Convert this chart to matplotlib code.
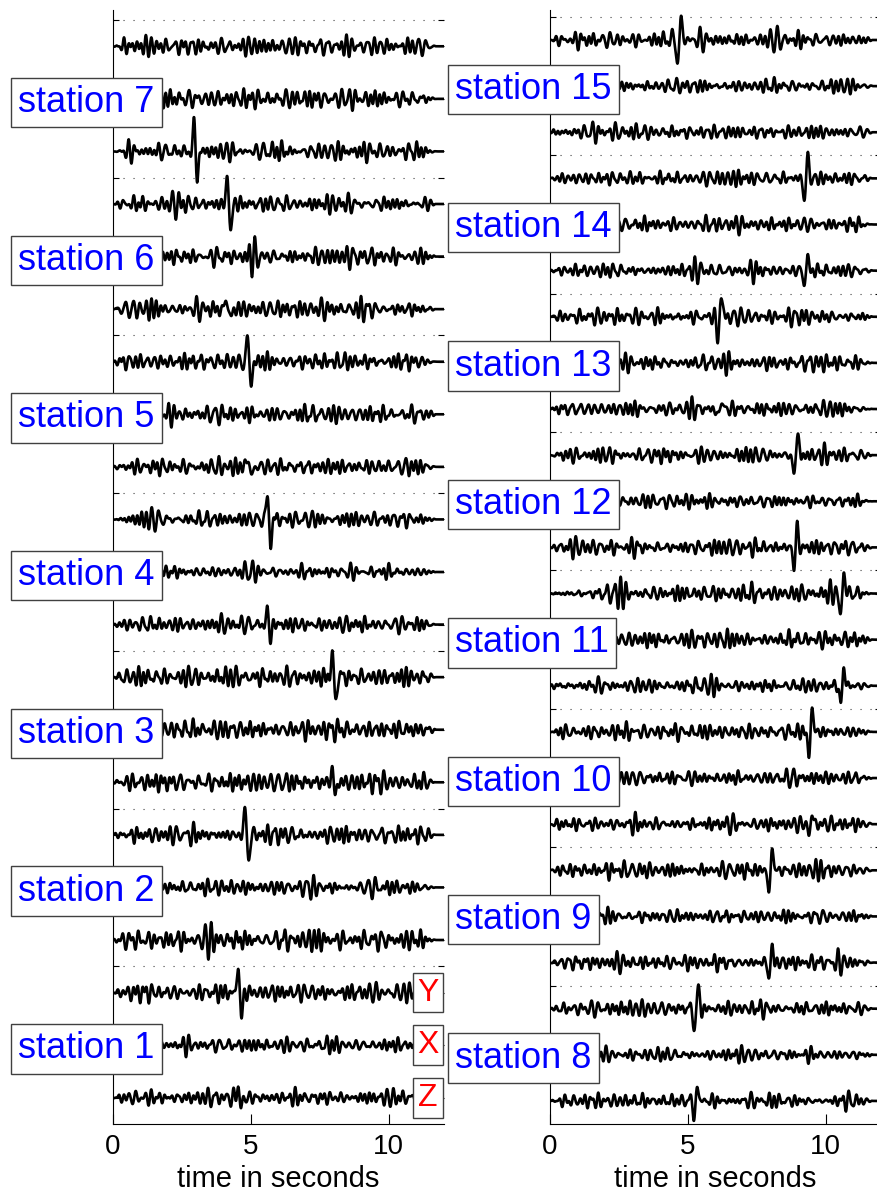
import numpy as np
import matplotlib.pyplot as plt

plt.rcParams["font.family"] = ["Liberation Sans", "DejaVu Sans"]

# ---------------------------------------------------------------------------
# Record setup
# ---------------------------------------------------------------------------
DURATION = 12.0          # s
DT = 0.01                # s
STATIONS_LEFT = [1, 2, 3, 4, 5, 6, 7]
STATIONS_RIGHT = [8, 9, 10, 11, 12, 13, 14, 15]
COMPONENTS = ["Z", "X", "Y"]          # bottom -> top inside a station block

# picked arrival of the main wavelet, station 1..15 (s)
ARRIVAL = [4.6, 4.85, 8.0, 5.65, 4.95, 4.2, 3.0,
           5.3, 8.0, 9.45, 10.6, 8.9, 6.15, 9.28, 4.7]
# main wavelet amplitude per component (trace spacing = 1)
AMP_Y = [0.52, 0.55, 0.46, 0.47, 0.50, 0.55, 0.0,
         -0.48, -0.52, -0.55, -0.52, -0.53, -0.53, -0.50, -0.52]
AMP_X = [0.0] * 15
AMP_Z = [0.20, 0.0, 0.25, 0.24, 0.22, 0.25, 0.50,
         -0.30, -0.32, -0.22, -0.40, -0.42, -0.22, -0.30, 0.0]

# background noise level per component, station 1..15
NOISE_Y = [0.13, 0.13, 0.15, 0.12, 0.13, 0.12, 0.13,
           0.12, 0.13, 0.12, 0.14, 0.13, 0.12, 0.11, 0.13]
NOISE_X = [0.11, 0.11, 0.14, 0.09, 0.13, 0.14, 0.14,
           0.10, 0.11, 0.11, 0.14, 0.11, 0.14, 0.11, 0.11]
NOISE_Z = [0.11, 0.15, 0.15, 0.11, 0.12, 0.13, 0.13,
           0.12, 0.12, 0.12, 0.11, 0.13, 0.12, 0.11, 0.12]

# secondary wave groups: (time s, amplitude)
BURSTS_Y = {
    1: [(1.7, 0.15), (9.6, 0.22), (10.4, 0.20)],
    2: [(9.8, 0.18), (11.0, 0.20)],
    3: [(2.4, 0.17), (3.0, 0.17)],
    4: [(3.2, 0.14)],
    5: [(7.0, 0.15), (9.5, 0.15)],
    6: [(2.2, 0.20), (8.7, -0.17)],
    7: [(1.15, -0.22), (6.65, 0.20), (9.3, 0.17), (10.9, 0.17)],
    8: [(1.8, 0.17), (3.4, 0.15)],
    9: [(2.1, 0.20), (9.7, 0.20)],
    10: [(2.8, 0.17), (4.6, 0.17)],
    11: [(2.6, 0.17), (4.5, 0.20), (9.2, 0.20)],
    12: [(7.3, 0.22), (10.0, 0.20)],
    13: [(1.8, 0.20), (7.0, 0.20), (8.0, 0.17)],
    14: [(5.6, 0.17), (6.7, 0.17)],
    15: [(2.0, 0.20), (4.2, 0.20), (5.5, 0.20), (8.3, 0.18)],
}
BURSTS_X = {
    1: [(7.1, 0.15), (9.1, 0.16)],
    2: [(5.6, 0.17), (7.1, 0.20), (9.6, 0.15)],
    3: [(3.6, -0.25), (9.6, 0.15), (10.4, 0.15)],
    4: [(4.85, 0.13), (6.9, 0.12)],
    5: [(5.1, 0.15), (9.4, 0.16), (10.9, 0.15)],
    6: [(5.2, 0.15), (7.6, 0.17)],
    7: [(6.3, 0.17), (7.5, 0.17)],
    8: [(2.1, 0.20), (7.0, 0.15)],
    9: [(5.6, 0.13)],
    10: [(6.1, 0.15), (8.9, 0.17)],
    11: [(1.0, 0.20), (5.0, 0.17), (11.1, 0.20)],
    12: [(5.0, 0.15), (9.3, 0.17)],
    13: [(1.2, 0.17), (4.4, 0.17), (8.2, 0.17)],
    14: [(2.8, 0.17), (6.2, 0.17), (6.8, 0.17)],
    15: [(10.6, 0.20)],
}
BURSTS_Z = {
    1: [(3.5, 0.14), (7.9, 0.18)],
    2: [(3.4, 0.22), (5.0, 0.17), (6.3, 0.17), (7.5, 0.15)],
    3: [(1.9, 0.20), (4.0, 0.17)],
    4: [(4.0, 0.18), (6.9, 0.17), (10.3, 0.13)],
    5: [(3.9, 0.15)],
    6: [(3.1, 0.25), (7.6, 0.18)],
    7: [(5.5, 0.14), (8.0, 0.14)],
    8: [(3.4, 0.17)],
    9: [(2.5, 0.17), (10.5, 0.17)],
    10: [(3.7, 0.15), (8.9, 0.20)],
    11: [(3.0, 0.15), (5.9, 0.20)],
    12: [(1.0, 0.17), (7.3, 0.20)],
    13: [(5.2, 0.17), (8.5, 0.15)],
    14: [(5.3, 0.17), (7.3, 0.17)],
    15: [(1.6, 0.22), (2.4, 0.20), (3.2, 0.20), (7.9, 0.13)],
}

AMP = {"Y": AMP_Y, "X": AMP_X, "Z": AMP_Z}
NOISE = {"Y": NOISE_Y, "X": NOISE_X, "Z": NOISE_Z}
BURSTS = {"Y": BURSTS_Y, "X": BURSTS_X, "Z": BURSTS_Z}

# band used for the microseism background (Hz)
BAND_HZ = [2.83, 3.08, 3.41, 3.62, 3.97, 4.21, 4.48, 4.83,
           5.02, 5.37, 5.66, 5.94, 6.31, 6.72]
GOLDEN = 0.6180339887


def wavelet(t, t0, amp, freq, width):
    tau = t - t0
    w = np.sin(-2 * np.pi * freq * tau) * np.exp(-(tau / width) ** 2)
    return amp * w / np.abs(w).max()


def background(t, idx):
    # quadratic (Weyl) phase spread so the band components do not line up
    sig = np.zeros_like(t)
    for k, f in enumerate(BAND_HZ):
        phase = 2 * np.pi * ((GOLDEN * (k + 1) ** 2 * (idx + 3)) % 1.0)
        sig += np.sin(2 * np.pi * f * t + phase)
    return sig / sig.std()


def make_trace(t, station, comp):
    i = station - 1
    idx = station * 3 + COMPONENTS.index(comp)
    y = NOISE[comp][i] / 1.7 * background(t, idx)
    for tb, ab in BURSTS[comp].get(station, []):
        y += wavelet(t, tb, ab * 0.8, 4.4, 0.22)
    if AMP[comp][i] != 0:
        y += wavelet(t, ARRIVAL[i], AMP[comp][i], 3.0, 0.13)
    taper = np.clip(t / 0.4, 0, 1) * np.clip((DURATION - 0.3 - t) / 0.5, 0, 1)
    return y * taper


def draw_panel(ax, stations, ytop, show_components=False):
    t = np.arange(0, DURATION + DT / 2, DT)
    n = len(stations)
    levels = []
    for k, st in enumerate(stations):
        for j, comp in enumerate(COMPONENTS):
            base = 3 * k + 0.5 + j
            levels.append(base)
            ax.plot(t, base + make_trace(t, st, comp), color="black",
                    lw=1.9, zorder=3, solid_joinstyle="round")
        ax.axhline(3 * (k + 1), color="0.25", lw=0.8, ls=(0, (1, 8)), zorder=1)
        ax.text(-3.43, 3 * k + 1.43, f"station {st}", color="blue", fontsize=26,
                ha="left", va="center", zorder=6, clip_on=False,
                bbox=dict(boxstyle="square,pad=0.2", fc="white", ec="0.25", lw=1))

    if show_components:
        for j, comp in enumerate(COMPONENTS):
            ax.text(11.42, 0.5 + j, comp, color="red", fontsize=23,
                    ha="center", va="center", zorder=6,
                    bbox=dict(boxstyle="square,pad=0.15", fc="white", ec="0.25", lw=1))

    ax.set_xlim(0, DURATION)
    ax.set_ylim(0, ytop)
    ax.set_xticks([0, 5, 10])
    ax.set_yticks(levels + [3 * (k + 1) for k in range(n)])
    ax.set_yticklabels([])
    ax.tick_params(axis="x", direction="in", length=7, width=0.8,
                   labelsize=20, pad=7)
    ax.tick_params(axis="y", direction="in", length=4, width=0.8,
                   left=True, right=True)
    for side in ("top", "right"):
        ax.spines[side].set_visible(False)
    for side in ("left", "bottom"):
        ax.spines[side].set_linewidth(0.8)
    ax.set_xlabel("time in seconds", fontsize=21, labelpad=4)
    ax.patch.set_alpha(0)


fig = plt.figure(figsize=(8.78, 11.93), dpi=100)
W, H = 878, 1193
ax_left = fig.add_axes([113 / W, 69 / H, 331 / W, 1114 / H])
ax_right = fig.add_axes([550 / W, 69 / H, 331 / W, 1114 / H])

draw_panel(ax_left, STATIONS_LEFT, 21.19, show_components=True)
draw_panel(ax_right, STATIONS_RIGHT, 24.15)

fig.savefig("out.png", dpi=100)
